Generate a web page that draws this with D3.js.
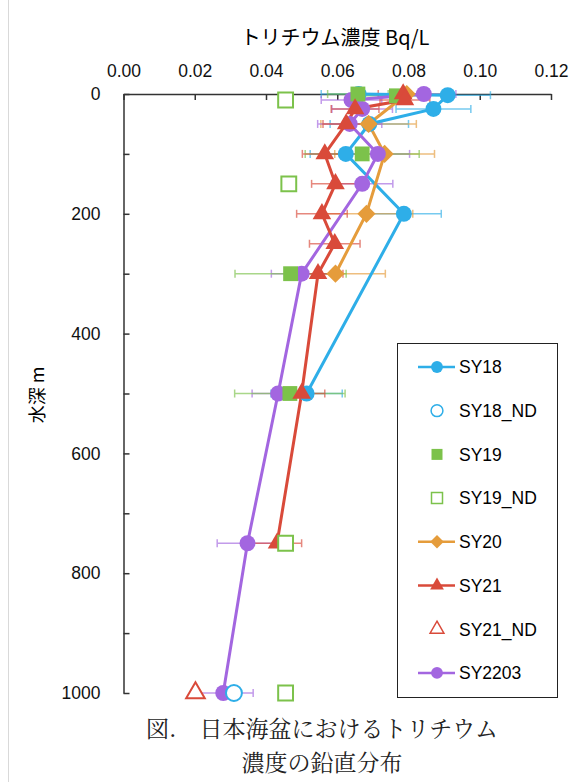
<!DOCTYPE html>
<html>
<head>
<meta charset="utf-8">
<script src="https://cdn.jsdelivr.net/npm/d3@7"></script>
<style>
  body { margin: 0; background: #fff; }
  svg text { font-family: "Noto Sans CJK JP", "Liberation Sans", sans-serif; }
</style>
</head>
<body>
<div class="chart"></div>
<script>
(function(){
// tick values
var xTicks = [0, 0.02, 0.04, 0.06, 0.08, 0.10, 0.12];
var yTicks = [0, 100, 200, 300, 400, 500, 600, 700, 800, 900, 1000];

// SY18
var sy18Depth = [0, 2, 25, 50, 100, 200, 500];
var sy18Value = [0.066, 0.091, 0.087, 0.069, 0.0624, 0.0787, 0.0514];
var sy18Err   = [0.0105, 0.012, 0.0105, 0.011, 0.010, 0.0105, 0.010];
var sy18NdDepth = [1000];
var sy18NdValue = [0.031];

// SY19 (markers only)
var sy19Depth = [0, 3, 100, 300, 500];
var sy19Value = [0.0658, 0.0766, 0.067, 0.0469, 0.0467];
var sy19Err   = [0.0085, 0.009, 0.016, 0.0156, 0.0155];
var sy19NdDepth = [10, 150, 750, 1000];
var sy19NdValue = [0.0455, 0.0464, 0.0455, 0.0455];

// SY20
var sy20Depth = [0, 50, 100, 200, 300];
var sy20Value = [0.0795, 0.0688, 0.0733, 0.0682, 0.0595];
var sy20Err   = [0.012, 0.0134, 0.014, 0.013, 0.014];

// SY21
var sy21Depth = [0, 10, 25, 50, 100, 150, 200, 250, 300, 500, 750];
var sy21Value = [0.0785, 0.079, 0.065, 0.0625, 0.0565, 0.0595, 0.0557, 0.0593, 0.0546, 0.050, 0.0431];
var sy21Err   = [0.007, 0.007, 0.0067, 0.0065, 0.0063, 0.0067, 0.0071, 0.0071, 0.007, 0.0065, 0.0069];
var sy21NdDepth = [1000];
var sy21NdValue = [0.0202];

// SY2203
var sy2203Depth = [0, 10, 25, 50, 100, 150, 300, 500, 750, 1000];
var sy2203Value = [0.0843, 0.064, 0.067, 0.0635, 0.0714, 0.067, 0.050, 0.0434, 0.0348, 0.028];
var sy2203Err   = [0.009, 0.0085, 0.0085, 0.009, 0.0089, 0.0086, 0.0085, 0.0073, 0.0085, 0.0084];

var legendNames = ["SY18", "SY18_ND", "SY19", "SY19_ND", "SY20", "SY21", "SY21_ND", "SY2203"];

var blue = "#2eaee8", green = "#7cc24b", orange = "#e59c3b", red = "#d94a3a", purple = "#a366e0";

function zip(depth, value, err) {
  return depth.map(function(d, i) { return {depth: d, value: value[i], err: err ? err[i] : 0}; });
}

var series = [
  {name: "SY18", color: blue, shape: "circle", line: true, fill: true, data: zip(sy18Depth, sy18Value, sy18Err)},
  {name: "SY20", color: orange, shape: "diamond", line: true, fill: true, data: zip(sy20Depth, sy20Value, sy20Err)},
  {name: "SY2203", color: purple, shape: "circle", line: true, fill: true, data: zip(sy2203Depth, sy2203Value, sy2203Err)},
  {name: "SY19", color: green, shape: "square", line: false, fill: true, data: zip(sy19Depth, sy19Value, sy19Err)},
  {name: "SY21", color: red, shape: "triangle", line: true, fill: true, data: zip(sy21Depth, sy21Value, sy21Err)},
  {name: "SY18_ND", color: blue, shape: "circle", line: false, fill: false, data: zip(sy18NdDepth, sy18NdValue)},
  {name: "SY19_ND", color: green, shape: "square", line: false, fill: false, data: zip(sy19NdDepth, sy19NdValue)},
  {name: "SY21_ND", color: red, shape: "triangle", line: false, fill: false, data: zip(sy21NdDepth, sy21NdValue)}
];
var byName = {};
series.forEach(function(s) { byName[s.name] = s; });

var width = 580, height = 782;

var x = d3.scaleLinear().domain([0, 0.12]).range([123.5, 551]);
var y = d3.scaleLinear().domain([0, 1000]).range([94, 693]);

var svg = d3.select(".chart").append("svg")
    .attr("width", width)
    .attr("height", height);

// faint frame line on the left
svg.append("line")
    .attr("x1", 8.5).attr("x2", 8.5).attr("y1", 0).attr("y2", height)
    .style("stroke", "#d9d9d9");

// marker path
function markerPath(shape, big) {
  var k = big ? 1 : 0.55;
  if (shape === "circle") return d3.symbol().type(d3.symbolCircle).size(200 * k)();
  if (shape === "square") return d3.symbol().type(d3.symbolSquare).size(220 * k)();
  if (shape === "triangle") return d3.symbol().type(d3.symbolTriangle).size(150 * k)();
  return d3.symbol().type(d3.symbolSquare).size(165 * k)();
}

// axes
var xAxis = svg.append("g")
    .attr("transform", "translate(0," + y(0) + ")")
    .call(d3.axisTop(x).tickValues(xTicks).tickFormat(d3.format(".2f"))
      .tickSizeInner(-6).tickSizeOuter(0).tickPadding(17));

var yAxis = svg.append("g")
    .attr("transform", "translate(" + x(0) + ",0)")
    .call(d3.axisLeft(y).tickValues(yTicks)
      .tickFormat(function(d) { return d % 200 === 0 ? d : ""; })
      .tickSizeInner(-6).tickSizeOuter(0).tickPadding(23));

[xAxis, yAxis].forEach(function(g) {
  g.select(".domain").style("stroke", "#333").style("stroke-width", 1.5);
  g.selectAll(".tick line").style("stroke", "#333").style("stroke-width", 1.5);
  g.selectAll(".tick text")
    .style("font-family", "'Liberation Sans', Arial, sans-serif")
    .style("font-size", "17.5px").style("fill", "#111");
});

// titles
svg.append("text")
    .attr("x", 335).attr("y", 45)
    .attr("text-anchor", "middle")
    .style("font-size", "20px")
    .text("トリチウム濃度 Bq/L");

svg.append("text")
    .attr("transform", "translate(44,395) rotate(-90)")
    .attr("text-anchor", "middle")
    .style("font-size", "18px")
    .text("水深 m");

// error bars
var plot = svg.append("g");
series.forEach(function(s) {
  var eb = plot.append("g").style("stroke", s.color).style("stroke-width", 1.5).style("opacity", 0.65);
  s.data.filter(function(d) { return d.err > 0; }).forEach(function(d) {
    var yy = y(d.depth), x0 = x(d.value - d.err), x1 = x(d.value + d.err);
    eb.append("line").attr("x1", x0).attr("x2", x1).attr("y1", yy).attr("y2", yy);
    eb.append("line").attr("x1", x0).attr("x2", x0).attr("y1", yy - 4).attr("y2", yy + 4);
    eb.append("line").attr("x1", x1).attr("x2", x1).attr("y1", yy - 4).attr("y2", yy + 4);
  });
});

// lines
var valueline = d3.line()
    .x(function(d) { return x(d.value); })
    .y(function(d) { return y(d.depth); });

series.forEach(function(s) {
  if (!s.line) return;
  plot.append("path")
      .data([s.data])
      .attr("d", valueline)
      .style("stroke", s.color)
      .style("stroke-width", 3)
      .style("fill", "none");
});

// markers
series.forEach(function(s) {
  plot.append("g").selectAll("path")
      .data(s.data)
    .enter().append("path")
      .attr("d", markerPath(s.shape, true))
      .attr("transform", function(d) {
        return "translate(" + x(d.value) + "," + y(d.depth) + ")" + (s.shape === "diamond" ? " rotate(45)" : "");
      })
      .style("fill", s.fill ? s.color : "#fff")
      .style("stroke", s.color)
      .style("stroke-width", s.fill ? 0 : 2);
});

// legend
var legend = svg.append("g");
legend.append("rect")
    .attr("x", 397.5).attr("y", 343.5).attr("width", 160).attr("height", 354)
    .style("fill", "#fff").style("stroke", "#222").style("stroke-width", 1);

legendNames.forEach(function(name, i) {
  var s = byName[name], ly = 367 + i * 43.7;
  if (s.line) {
    legend.append("line")
        .attr("x1", 418).attr("x2", 455).attr("y1", ly).attr("y2", ly)
        .style("stroke", s.color).style("stroke-width", 2.5);
  }
  legend.append("path")
      .attr("d", markerPath(s.shape, false))
      .attr("transform", "translate(437," + ly + ")" + (s.shape === "diamond" ? " rotate(45)" : ""))
      .style("fill", s.fill ? s.color : "#fff")
      .style("stroke", s.color)
      .style("stroke-width", s.fill ? 0 : 1.5);
  legend.append("text")
      .attr("x", 459).attr("y", ly).attr("dy", "0.36em")
      .style("font-family", "'Liberation Sans', Arial, sans-serif")
      .style("font-size", "17.5px")
      .text(name);
});

// caption
svg.append("text")
    .attr("x", 322).attr("y", 737)
    .attr("text-anchor", "middle")
    .style("font-family", "'Noto Serif CJK JP', 'Noto Sans CJK JP', serif")
    .style("font-size", "23px").style("fill", "#222")
    .text("図.　日本海盆におけるトリチウム");
svg.append("text")
    .attr("x", 322).attr("y", 771)
    .attr("text-anchor", "middle")
    .style("font-family", "'Noto Serif CJK JP', 'Noto Sans CJK JP', serif")
    .style("font-size", "23px").style("fill", "#222")
    .text("濃度の鉛直分布");
})();
</script>
</body>
</html>
